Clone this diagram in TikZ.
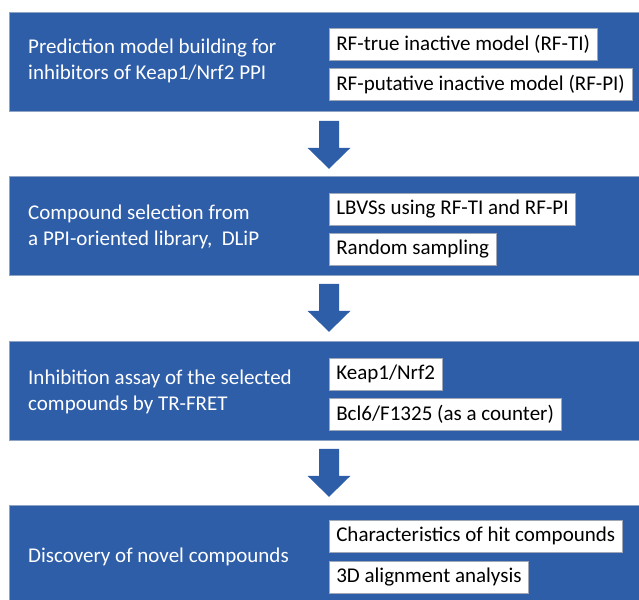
\documentclass[tikz,border=0pt]{standalone}
\usepackage{fontspec}
\setmainfont{Carlito}
\usetikzlibrary{calc}
\definecolor{panelblue}{HTML}{2F5EA9}
\definecolor{paneledge}{HTML}{8FA3C4}
\definecolor{boxedge}{HTML}{A0A8B8}
\tikzset{
 panel/.style={draw=paneledge, line width=0.8pt, fill=panelblue, anchor=north west, minimum width=634pt, minimum height=99pt, inner sep=0pt},
 lefttxt/.style={anchor=west, text=white, font=\fontsize{21}{26}\selectfont, align=left, inner sep=0pt},
 wbox/.style={draw=boxedge, line width=0.6pt, fill=white, anchor=north west, minimum height=32pt, inner xsep=7pt, inner ysep=0pt, font=\fontsize{21}{24}\selectfont},
 barrow/.style={fill=panelblue, draw=none}
}
\newcommand{\blockarrow}[1]{%
 \fill[barrow] ($(#1)+(-10,0)$) -- ($(#1)+(10,0)$) -- ($(#1)+(10,27)$) -- ($(#1)+(21.5,27)$) -- ($(#1)+(0,48)$) -- ($(#1)+(-21.5,27)$) -- ($(#1)+(-10,27)$) -- cycle;}
\begin{document}
\begin{tikzpicture}[x=1pt,y=-1pt]
\useasboundingbox (0,0) rectangle (639,599);
% panels
\node[panel] (p1) at (9,12) {};
\node[panel] (p2) at (9,176) {};
\node[panel] (p3) at (9,341) {};
\node[panel] (p4) at (9,505) {};
% left texts
\node[lefttxt] (t1) at (28,61) {Prediction model building for\\inhibitors of Keap1/Nrf2 PPI};
\node[lefttxt] (t2) at (28,227) {Compound selection from\\a PPI-oriented library,\ \ DLiP};
\node[lefttxt] (t3) at (28,392) {Inhibition assay of the selected\\compounds by TR-FRET};
\node[lefttxt] (t4) at (28,557) {Discovery of novel compounds};
% white boxes
\node[wbox] (b11) at (329,28) {RF-true inactive model (RF-TI)};
\node[wbox] (b12) at (329,68) {RF-putative inactive model (RF-PI)};
\node[wbox] (b21) at (329,193) {LBVSs using RF-TI and RF-PI};
\node[wbox] (b22) at (329,233) {Random sampling};
\node[wbox] (b31) at (329,358) {Keap1/Nrf2};
\node[wbox] (b32) at (329,398) {Bcl6/F1325 (as a counter)};
\node[wbox] (b41) at (329,520) {Characteristics of hit compounds};
\node[wbox] (b42) at (329,561) {3D alignment analysis};
% arrows
\coordinate (a1) at ($(p1.south -| b11.west)+(0,9)$);
\coordinate (a2) at ($(p2.south -| b21.west)+(0,8)$);
\coordinate (a3) at ($(p3.south -| b31.west)+(0,8)$);
\blockarrow{a1}
\blockarrow{a2}
\blockarrow{a3}
\end{tikzpicture}
\end{document}
